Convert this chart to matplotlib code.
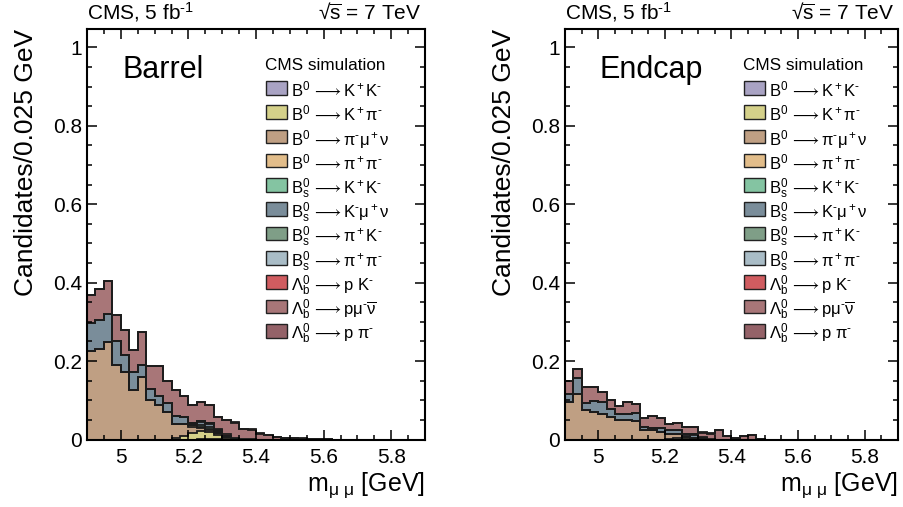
import numpy as np
import matplotlib
matplotlib.use("Agg")
import matplotlib.pyplot as plt
from matplotlib.patches import Rectangle
from matplotlib.ticker import MultipleLocator, FuncFormatter

plt.rcParams['font.family'] = ['Liberation Sans', 'DejaVu Sans']
plt.rcParams['mathtext.fontset'] = 'custom'
plt.rcParams['mathtext.rm'] = 'Liberation Sans'
plt.rcParams['mathtext.it'] = 'Liberation Sans'
plt.rcParams['mathtext.sf'] = 'Liberation Sans'
plt.rcParams['mathtext.bf'] = 'Liberation Sans:bold'
plt.rcParams['mathtext.default'] = 'rm'
plt.rcParams['mathtext.fallback'] = 'stixsans'

# ---------------- data ----------------
mass_min, mass_max, n_bins = 4.9, 5.9, 40   # 0.025 GeV bins

labels = [
    r"$B^0\,\longrightarrow K^+K^‐$",
    r"$B^0\,\longrightarrow K^+\pi^‐$",
    r"$B^0\,\longrightarrow \pi^‐\mu^+\nu$",
    r"$B^0\,\longrightarrow \pi^+\pi^‐$",
    r"$B_s^0\,\longrightarrow K^+K^‐$",
    r"$B_s^0\,\longrightarrow K^‐\mu^+\nu$",
    r"$B_s^0\,\longrightarrow \pi^+K^‐$",
    r"$B_s^0\,\longrightarrow \pi^+\pi^‐$",
    r"$\Lambda_b^0\,\longrightarrow p\ K^‐$",
    r"$\Lambda_b^0\,\longrightarrow p\mu^‐\overline{\nu}$",
    r"$\Lambda_b^0\,\longrightarrow p\ \pi^‐$",
]
colors = ["#a9a3c3", "#d5d18a", "#bf9f83", "#e2bd8a", "#84c4a2", "#7a8d9a",
          "#7f9e87", "#a9bcc6", "#d05c60", "#a87678", "#946268"]

# Barrel (40 bins each)
barrel_B0_KK    = [0,0,0,0,0,0,0,0,0,0, 0,0,0,0.001,0.002,0.001,0,0,0,0, 0,0,0,0,0,0,0,0,0,0, 0,0,0,0,0,0,0,0,0,0]
barrel_B0_Kpi   = [0,0,0,0,0,0,0,0,0,0, 0.003,0.008,0.016,0.020,0.017,0.011,0.004,0.001,0,0, 0,0,0,0,0,0,0,0,0,0, 0,0,0,0,0,0,0,0,0,0]
barrel_B0_pimunu= [0.225,0.230,0.249,0.190,0.173,0.126,0.160,0.100,0.087,0.071, 0.036,0.031,0.017,0.009,0.006,0.004,0.002,0.001,0,0, 0,0,0,0,0,0,0,0,0,0, 0,0,0,0,0,0,0,0,0,0]
barrel_B0_pipi  = [0,0,0,0,0,0,0,0,0,0, 0,0.001,0.003,0.003,0.002,0.001,0,0,0,0, 0,0,0,0,0,0,0,0,0,0, 0,0,0,0,0,0,0,0,0,0]
barrel_Bs_KK    = [0,0,0,0,0,0,0,0,0,0, 0,0,0.002,0.004,0.006,0.003,0.001,0,0,0, 0,0,0,0,0,0,0,0,0,0, 0,0,0,0,0,0,0,0,0,0]
barrel_Bs_Kmunu = [0.072,0.074,0.072,0.062,0.042,0.047,0.030,0.028,0.025,0.021, 0.021,0.018,0.004,0.007,0.006,0.002,0.001,0,0,0, 0,0,0,0,0,0,0,0,0,0, 0,0,0,0,0,0,0,0,0,0]
barrel_Bs_piK   = [0,0,0,0,0,0,0,0,0,0, 0,0,0.001,0.002,0.002,0.001,0.002,0,0,0, 0,0,0,0,0,0,0,0,0,0, 0,0,0,0,0,0,0,0,0,0]
barrel_Bs_pipi  = [0,0,0,0,0,0,0,0,0,0, 0,0,0,0.001,0.001,0.001,0,0,0,0, 0,0,0,0,0,0,0,0,0,0, 0,0,0,0,0,0,0,0,0,0]
barrel_Lb_pK    = [0,0,0,0,0,0,0,0,0,0, 0,0,0,0,0.001,0.002,0.003,0.003,0.002,0.001, 0,0,0,0,0,0,0,0,0,0, 0,0,0,0,0,0,0,0,0,0]
barrel_Lb_pmunu = [0.071,0.079,0.082,0.065,0.065,0.055,0.084,0.059,0.075,0.056, 0.066,0.052,0.045,0.049,0.046,0.032,0.037,0.037,0.024,0.023, 0.015,0.011,0.006,0.003,0.003,0.002,0.001,0.002,0.002,0, 0,0,0,0,0,0,0,0,0,0]
barrel_Lb_ppi   = [0,0,0,0,0,0,0,0,0,0, 0,0,0,0,0,0,0.001,0.002,0.002,0.002, 0.001,0,0,0,0,0.002,0,0,0,0, 0,0,0,0,0,0,0,0,0,0]

# Endcap (40 bins each)
endcap_B0_KK    = [0,0,0,0,0,0,0,0,0,0, 0,0,0,0,0,0,0,0,0,0, 0,0,0,0,0,0,0,0,0,0, 0,0,0,0,0,0,0,0,0,0]
endcap_B0_Kpi   = [0,0,0,0,0,0,0,0,0,0, 0,0,0.002,0.003,0.003,0.002,0.001,0,0,0, 0,0,0,0,0,0,0,0,0,0, 0,0,0,0,0,0,0,0,0,0]
endcap_B0_pimunu= [0.096,0.115,0.075,0.071,0.064,0.058,0.051,0.050,0.048,0.024, 0.024,0.020,0.012,0.010,0.003,0.002,0.001,0,0,0, 0,0,0,0,0,0,0,0,0,0, 0,0,0,0,0,0,0,0,0,0]
endcap_B0_pipi  = [0,0,0,0,0,0,0,0,0,0, 0,0,0.001,0.001,0,0,0,0,0,0, 0,0,0,0,0,0,0,0,0,0, 0,0,0,0,0,0,0,0,0,0]
endcap_Bs_KK    = [0,0,0,0,0,0,0,0,0,0, 0,0,0,0.001,0.002,0.001,0,0,0,0, 0,0,0,0,0,0,0,0,0,0, 0,0,0,0,0,0,0,0,0,0]
endcap_Bs_Kmunu = [0.019,0.041,0.017,0.028,0.032,0.021,0.013,0.014,0.019,0.009, 0.006,0.010,0.008,0.009,0.005,0.007,0.003,0,0,0, 0,0,0,0,0,0,0,0,0,0, 0,0,0,0,0,0,0,0,0,0]
endcap_Bs_piK   = [0,0,0,0,0,0,0,0,0,0, 0,0,0,0,0.001,0.001,0,0,0,0, 0,0,0,0,0,0,0,0,0,0, 0,0,0,0,0,0,0,0,0,0]
endcap_Bs_pipi  = [0,0,0,0,0,0,0,0,0,0, 0,0,0,0,0,0,0,0,0,0, 0,0,0,0,0,0,0,0,0,0, 0,0,0,0,0,0,0,0,0,0]
endcap_Lb_pK    = [0,0,0,0,0,0,0,0,0,0, 0,0,0,0,0,0.001,0.001,0.002,0,0, 0,0,0,0,0,0,0,0,0,0, 0,0,0,0,0,0,0,0,0,0]
endcap_Lb_pmunu = [0.034,0.025,0.041,0.035,0.024,0.023,0.022,0.031,0.023,0.023, 0.031,0.024,0.016,0.019,0.017,0.017,0.011,0.013,0.023,0.009, 0.003,0.008,0.011,0.002,0,0,0,0,0,0, 0,0,0,0,0,0,0,0,0,0]
endcap_Lb_ppi   = [0,0,0,0,0,0,0,0,0,0, 0,0,0,0,0,0,0.001,0.001,0.001,0, 0,0,0,0,0,0,0,0,0,0, 0,0,0,0,0,0,0,0,0,0]

barrel = [barrel_B0_KK, barrel_B0_Kpi, barrel_B0_pimunu, barrel_B0_pipi, barrel_Bs_KK,
          barrel_Bs_Kmunu, barrel_Bs_piK, barrel_Bs_pipi, barrel_Lb_pK, barrel_Lb_pmunu, barrel_Lb_ppi]
endcap = [endcap_B0_KK, endcap_B0_Kpi, endcap_B0_pimunu, endcap_B0_pipi, endcap_Bs_KK,
          endcap_Bs_Kmunu, endcap_Bs_piK, endcap_Bs_pipi, endcap_Lb_pK, endcap_Lb_pmunu, endcap_Lb_ppi]

edges = np.linspace(mass_min, mass_max, n_bins + 1)

# ---------------- figure ----------------
W, H = 904, 507
fig = plt.figure(figsize=(W / 100, H / 100), dpi=100)
ax1 = fig.add_axes([87/W, 67.5/H, 338/W, 410.5/H])
ax2 = fig.add_axes([565/W, 67.5/H, 333/W, 410.5/H])

fmt = FuncFormatter(lambda v, p: f"{v:g}")


def fx(px):
    return px / W


def fy(py):
    return 1 - py / H


def draw_legend(ax, ax_left_px):
    tf = fig.transFigure
    ax.text(fx(ax_left_px + 178), fy(66), "CMS simulation", transform=tf,
            ha='left', va='center', fontsize=12.3)
    for k, (lab, col) in enumerate(zip(labels, colors)):
        yc = 87.7 + 24.3 * k
        ax.add_patch(Rectangle((fx(ax_left_px + 179), fy(yc + 6.8)), 21 / W, 13.6 / H,
                               transform=tf, facecolor=col, edgecolor='#222222',
                               linewidth=1.0, clip_on=False))
        ax.text(fx(ax_left_px + 204), fy(yc), lab, transform=tf,
                ha='left', va='center_baseline', fontsize=12)


def draw_panel(ax, series, region, ylab_x, ax_left_px):
    base = np.zeros(n_bins)
    tops = []
    for vals, col in zip(series, colors):
        top = base + np.asarray(vals, dtype=float)
        ax.stairs(top, edges, baseline=base, fill=True, facecolor=col, edgecolor='none', lw=0)
        tops.append(top)
        base = top
    for top in tops:
        ax.stairs(top, edges, baseline=None, color='#1c1c1c', lw=1.3)

    ax.set_xlim(mass_min, mass_max)
    ax.set_ylim(0, 1.047)
    ax.xaxis.set_major_locator(MultipleLocator(0.2))
    ax.xaxis.set_minor_locator(MultipleLocator(0.05))
    ax.yaxis.set_major_locator(MultipleLocator(0.2))
    ax.yaxis.set_minor_locator(MultipleLocator(0.05))
    ax.xaxis.set_major_formatter(fmt)
    ax.yaxis.set_major_formatter(fmt)
    ax.tick_params(which='both', direction='in', top=True, right=True, width=1.1, color='black')
    ax.tick_params(which='major', length=7.5, labelsize=15)
    ax.tick_params(which='minor', length=3.6)
    ax.tick_params(axis='x', which='major', pad=6)
    ax.tick_params(axis='y', which='major', pad=3.5)
    for s in ax.spines.values():
        s.set_linewidth(1.5)

    ax.set_ylabel("Candidates/0.025 GeV", fontsize=19, loc='top')
    ax.yaxis.set_label_coords(ylab_x, 1.0)
    ax.set_xlabel(r"m$_{\mu\ \mu}$ [GeV]", fontsize=18, loc='right')
    ax.xaxis.set_label_coords(1.0, -0.075)

    ax.text(0.0, 1.024, r"CMS, 5 fb$^{‐1}$", transform=ax.transAxes, ha='left', va='baseline', fontsize=15)
    ax.text(0.99, 1.024, r"√$\overline{s}$ = 7 TeV", transform=ax.transAxes, ha='right', va='baseline', fontsize=15)
    ax.text(0.104, 0.881, region, transform=ax.transAxes, ha='left', va='baseline', fontsize=22)

    draw_legend(ax, ax_left_px)


draw_panel(ax1, barrel, "Barrel", -0.145, 87)
draw_panel(ax2, endcap, "Endcap", -0.147, 565)

fig.savefig("out.png", dpi=100)
